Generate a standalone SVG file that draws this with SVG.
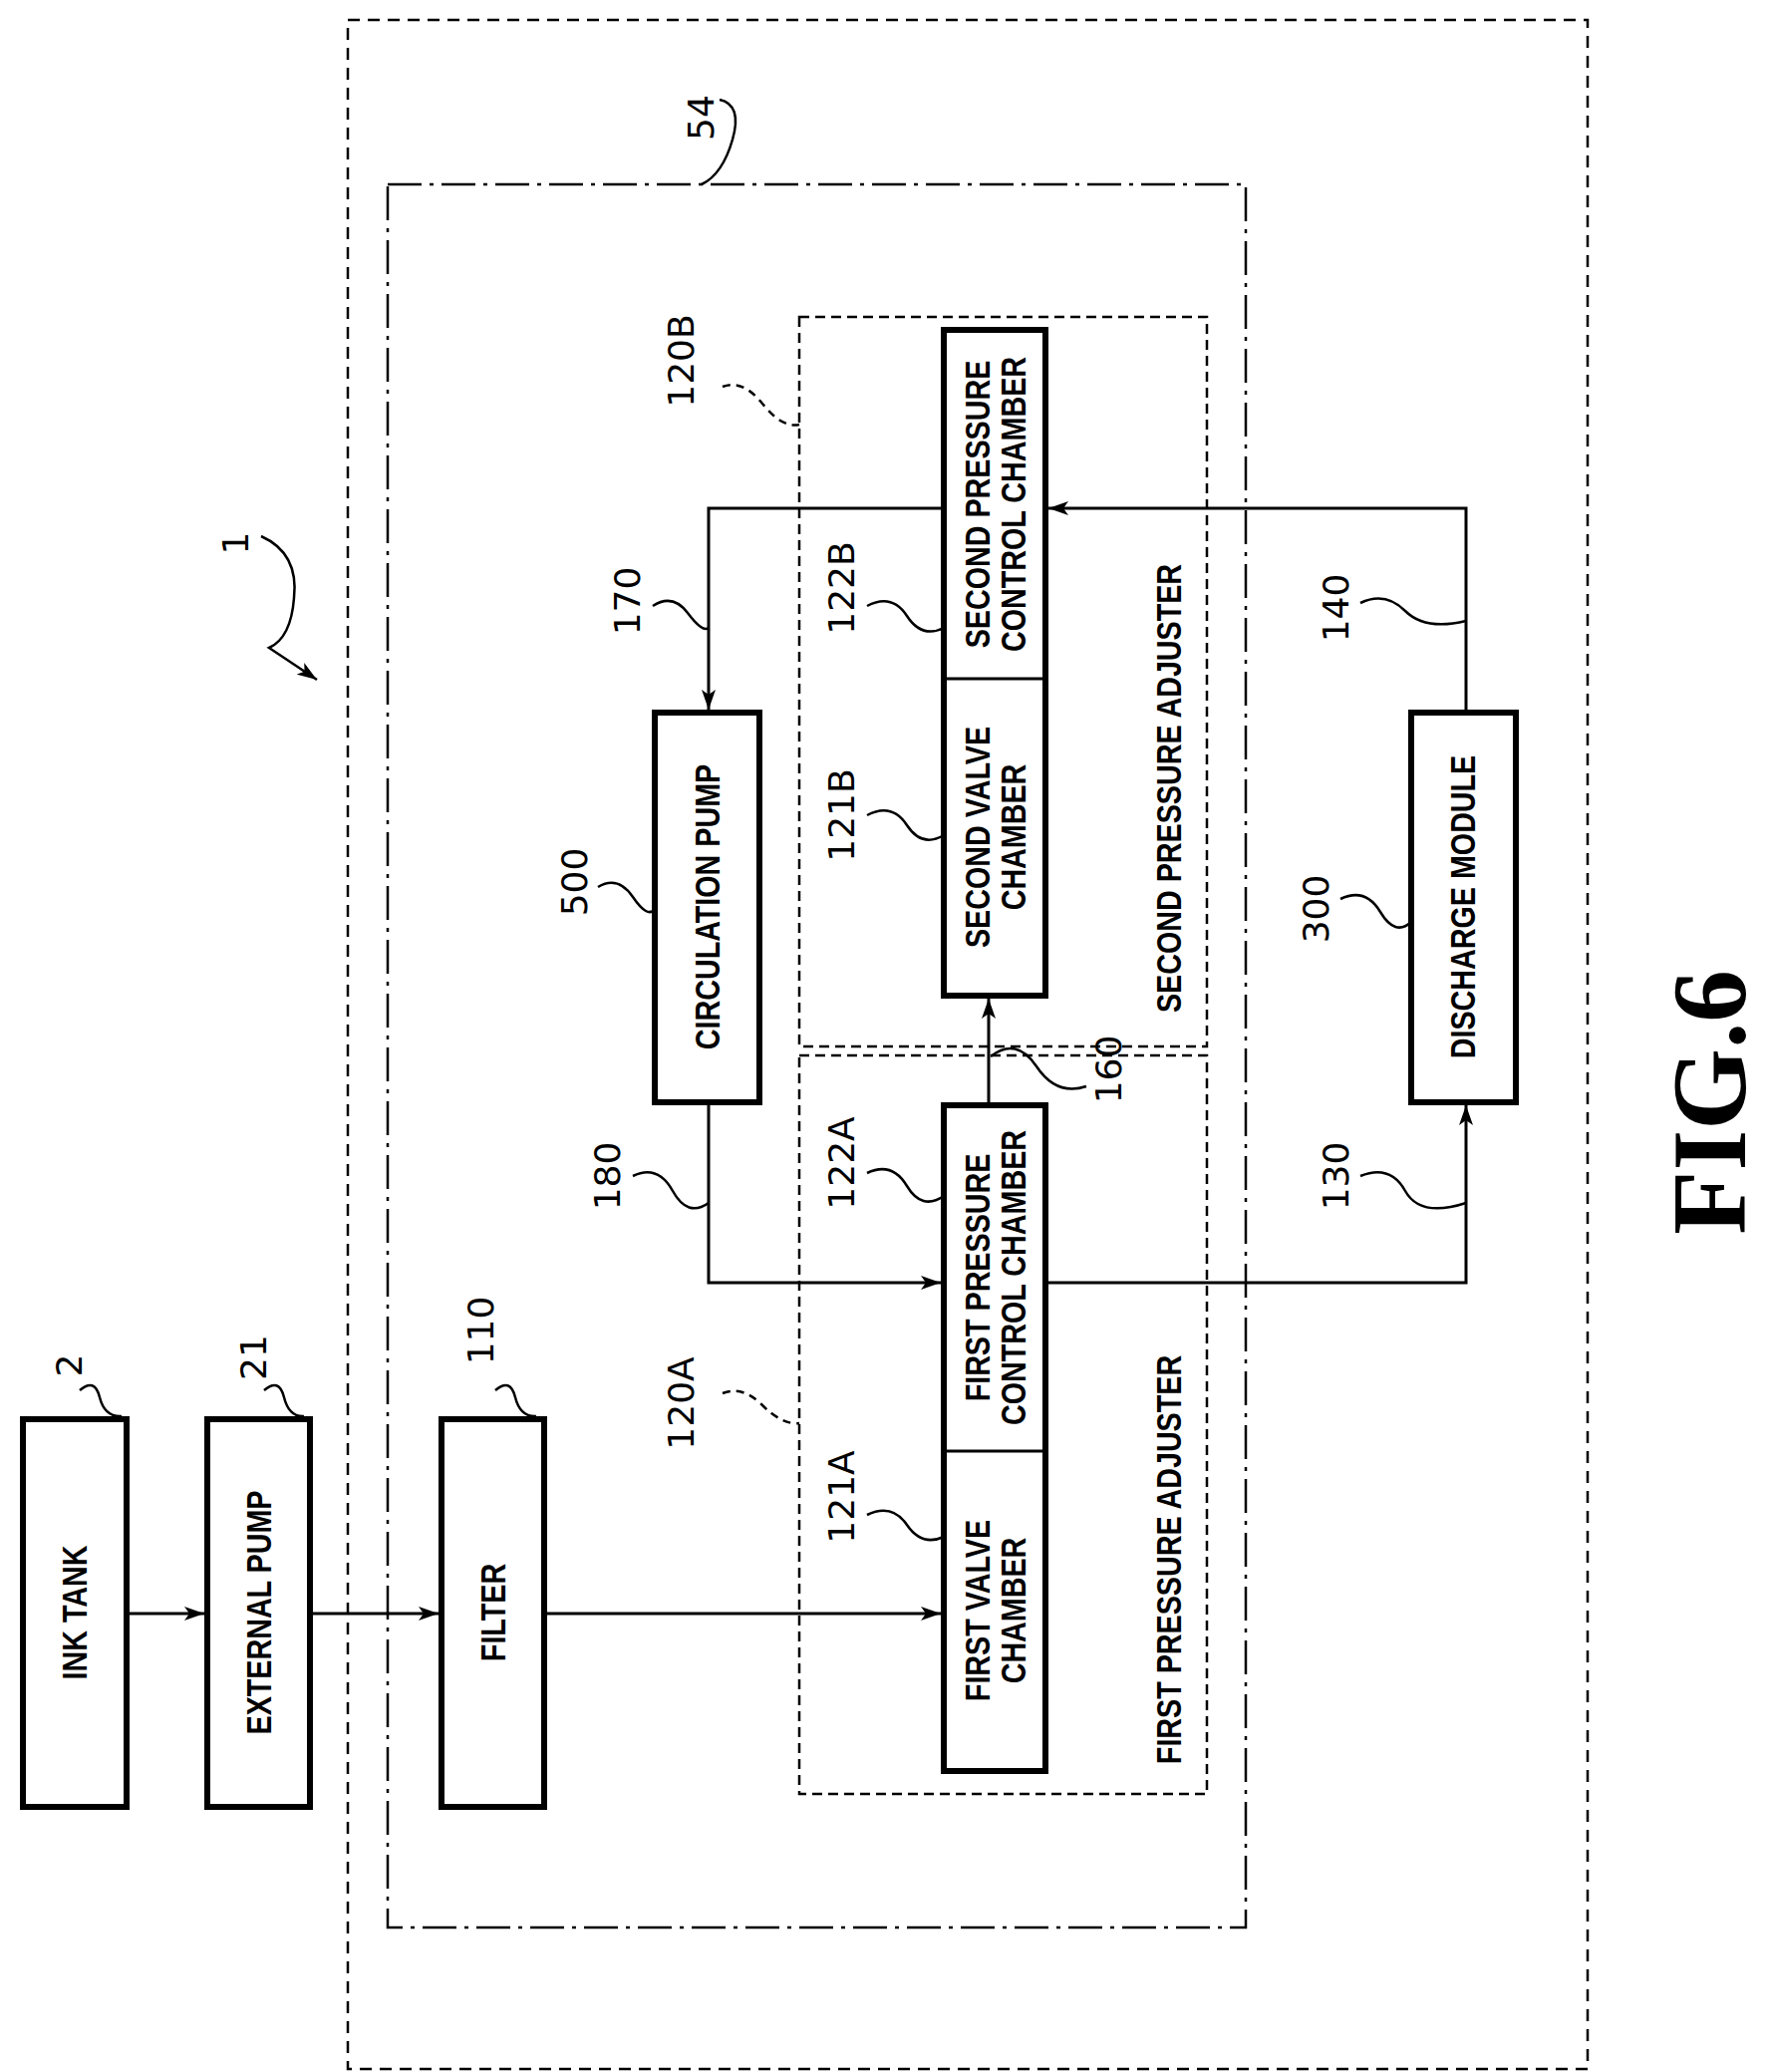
<svg xmlns="http://www.w3.org/2000/svg" width="1774" height="2079" viewBox="0 0 1774 2079">
<style>
.box{fill:#fff;stroke:#000;stroke-width:6}
.div{stroke:#000;stroke-width:3}
.bt{font-family:"Liberation Sans",Arial,sans-serif;font-weight:bold;font-size:35px;text-anchor:middle;fill:#000}
.num{font-family:"DejaVu Sans",sans-serif;font-size:36px;text-anchor:middle;fill:#000}
.ln{fill:none;stroke:#000;stroke-width:3}
.ld{fill:none;stroke:#000;stroke-width:2.5}
.ldd{fill:none;stroke:#000;stroke-width:2.5;stroke-dasharray:8 6}
</style>
<defs>
<marker id="ah" viewBox="0 0 20 14" refX="20" refY="7" markerWidth="20" markerHeight="14" markerUnits="userSpaceOnUse" orient="auto">
<path d="M0,0 L20,7 L0,14 L5,7 Z" fill="#000"/>
</marker>
</defs>
<rect width="1774" height="2079" fill="#fff"/>
<g id="frames">
<rect x="349" y="20" width="1244" height="2056" fill="none" stroke="#000" stroke-width="2.5" stroke-dasharray="12 8"/>
<rect x="389" y="185" width="861" height="1749" fill="none" stroke="#000" stroke-width="2.5" stroke-dasharray="34 8 4 8"/>
<rect x="802" y="318" width="409" height="732" fill="none" stroke="#000" stroke-width="2.5" stroke-dasharray="10 6"/>
<rect x="802" y="1059" width="409" height="741" fill="none" stroke="#000" stroke-width="2.5" stroke-dasharray="10 6"/>
<text class="bt" transform="translate(1173,791) rotate(-90) scale(0.82,1)" y="12">SECOND PRESSURE ADJUSTER</text>
<text class="bt" transform="translate(1173,1565) rotate(-90) scale(0.82,1)" y="12">FIRST PRESSURE ADJUSTER</text>
</g>
<g id="inktank"><rect class="box" x="23" y="1424" width="104" height="389"/><text class="bt" transform="translate(75,1618) rotate(-90) scale(0.82,1)" y="12">INK TANK</text></g>
<g id="extpump"><rect class="box" x="208" y="1424" width="103" height="389"/><text class="bt" transform="translate(260,1618) rotate(-90) scale(0.82,1)" y="12">EXTERNAL PUMP</text></g>
<g id="filter"><rect class="box" x="443" y="1424" width="103" height="389"/><text class="bt" transform="translate(495,1618) rotate(-90) scale(0.82,1)" y="12">FILTER</text></g>
<g id="adj1"><rect class="box" x="947" y="1109" width="102" height="668"/><line class="div" x1="947" y1="1456" x2="1049" y2="1456"/>
<text class="bt" transform="translate(998,1616) rotate(-90) scale(0.82,1)"><tspan x="0" y="-5">FIRST VALVE</tspan><tspan x="0" y="31">CHAMBER</tspan></text>
<text class="bt" transform="translate(998,1282) rotate(-90) scale(0.82,1)"><tspan x="0" y="-5">FIRST PRESSURE</tspan><tspan x="0" y="31">CONTROL CHAMBER</tspan></text></g>
<g id="adj2"><rect class="box" x="947" y="331" width="102" height="668"/><line class="div" x1="947" y1="681" x2="1049" y2="681"/>
<text class="bt" transform="translate(998,840) rotate(-90) scale(0.82,1)"><tspan x="0" y="-5">SECOND VALVE</tspan><tspan x="0" y="31">CHAMBER</tspan></text>
<text class="bt" transform="translate(998,506) rotate(-90) scale(0.82,1)"><tspan x="0" y="-5">SECOND PRESSURE</tspan><tspan x="0" y="31">CONTROL CHAMBER</tspan></text></g>
<g id="circpump"><rect class="box" x="657" y="715" width="105" height="391"/><text class="bt" transform="translate(710,910) rotate(-90) scale(0.82,1)" y="12">CIRCULATION PUMP</text></g>
<g id="discharge"><rect class="box" x="1416" y="715" width="105" height="391"/><text class="bt" transform="translate(1468,910) rotate(-90) scale(0.82,1)" y="12">DISCHARGE MODULE</text></g>
<g id="connectors">
<line class="ln" x1="127" y1="1619" x2="205" y2="1619" marker-end="url(#ah)"/>
<line class="ln" x1="311" y1="1619" x2="440" y2="1619" marker-end="url(#ah)"/>
<line class="ln" x1="546" y1="1619" x2="944" y2="1619" marker-end="url(#ah)"/>
<polyline class="ln" points="947,510 711,510 711,712" marker-end="url(#ah)"/>
<polyline class="ln" points="1471,715 1471,510 1052,510" marker-end="url(#ah)"/>
<polyline class="ln" points="711,1106 711,1287 944,1287" marker-end="url(#ah)"/>
<polyline class="ln" points="1049,1287 1471,1287 1471,1109" marker-end="url(#ah)"/>
<line class="ln" x1="992" y1="1109" x2="992" y2="1002" marker-end="url(#ah)"/>
</g>
<g id="labels">
<text class="num" transform="translate(70,1370) rotate(-90)" y="12">2</text>
<path class="ld" d="M80,1395 Q95,1382 100,1402 T122,1421"/>
<text class="num" transform="translate(255,1362) rotate(-90)" y="12">21</text>
<path class="ld" d="M265,1395 Q280,1382 285,1402 T305,1421"/>
<text class="num" transform="translate(483,1335) rotate(-90)" y="12">110</text>
<path class="ld" d="M497,1395 Q512,1382 517,1402 T538,1421"/>
<text class="num" transform="translate(237,545) rotate(-90)" y="12">1</text>
<path class="ld" d="M262,538 Q300,555 295,600 Q292,640 270,650 Q300,670 318,682" marker-end="url(#ah)"/>
<text class="num" transform="translate(704,118) rotate(-90)" y="12">54</text>
<path class="ld" d="M722,100 Q745,105 735,140 T704,185"/>
<text class="num" transform="translate(684,362) rotate(-90)" y="12">120B</text>
<path class="ldd" d="M725,388 Q745,380 765,405 T802,426"/>
<text class="num" transform="translate(630,603) rotate(-90)" y="12">170</text>
<path class="ld" d="M655,608 Q675,595 690,615 T711,630"/>
<text class="num" transform="translate(845,590) rotate(-90)" y="12">122B</text>
<path class="ld" d="M870,608 Q895,595 910,618 T947,630"/>
<text class="num" transform="translate(845,818) rotate(-90)" y="12">121B</text>
<path class="ld" d="M870,818 Q895,805 910,828 T947,838"/>
<text class="num" transform="translate(577,885) rotate(-90)" y="12">500</text>
<path class="ld" d="M600,890 Q620,878 635,900 T657,912"/>
<text class="num" transform="translate(1321,912) rotate(-90)" y="12">300</text>
<path class="ld" d="M1345,902 Q1370,890 1385,915 T1416,925"/>
<text class="num" transform="translate(1341,610) rotate(-90)" y="12">140</text>
<path class="ld" d="M1365,605 Q1390,593 1410,613 T1471,623"/>
<text class="num" transform="translate(1113,1073) rotate(-90)" y="12">160</text>
<path class="ld" d="M994,1060 Q1020,1040 1040,1070 T1090,1090"/>
<text class="num" transform="translate(610,1180) rotate(-90)" y="12">180</text>
<path class="ld" d="M635,1180 Q660,1168 675,1195 T711,1207"/>
<text class="num" transform="translate(845,1167) rotate(-90)" y="12">122A</text>
<path class="ld" d="M870,1177 Q895,1165 910,1190 T947,1200"/>
<text class="num" transform="translate(1341,1180) rotate(-90)" y="12">130</text>
<path class="ld" d="M1365,1180 Q1395,1168 1410,1195 T1471,1207"/>
<text class="num" transform="translate(684,1408) rotate(-90)" y="12">120A</text>
<path class="ldd" d="M725,1398 Q745,1390 765,1410 T802,1428"/>
<text class="num" transform="translate(845,1502) rotate(-90)" y="12">121A</text>
<path class="ld" d="M870,1520 Q895,1508 910,1530 T947,1542"/>
</g>
<text transform="translate(1715,1106) rotate(-90)" y="36" text-anchor="middle" font-family="'Liberation Serif',serif" font-weight="bold" font-size="105">FIG.6</text>
</svg>
